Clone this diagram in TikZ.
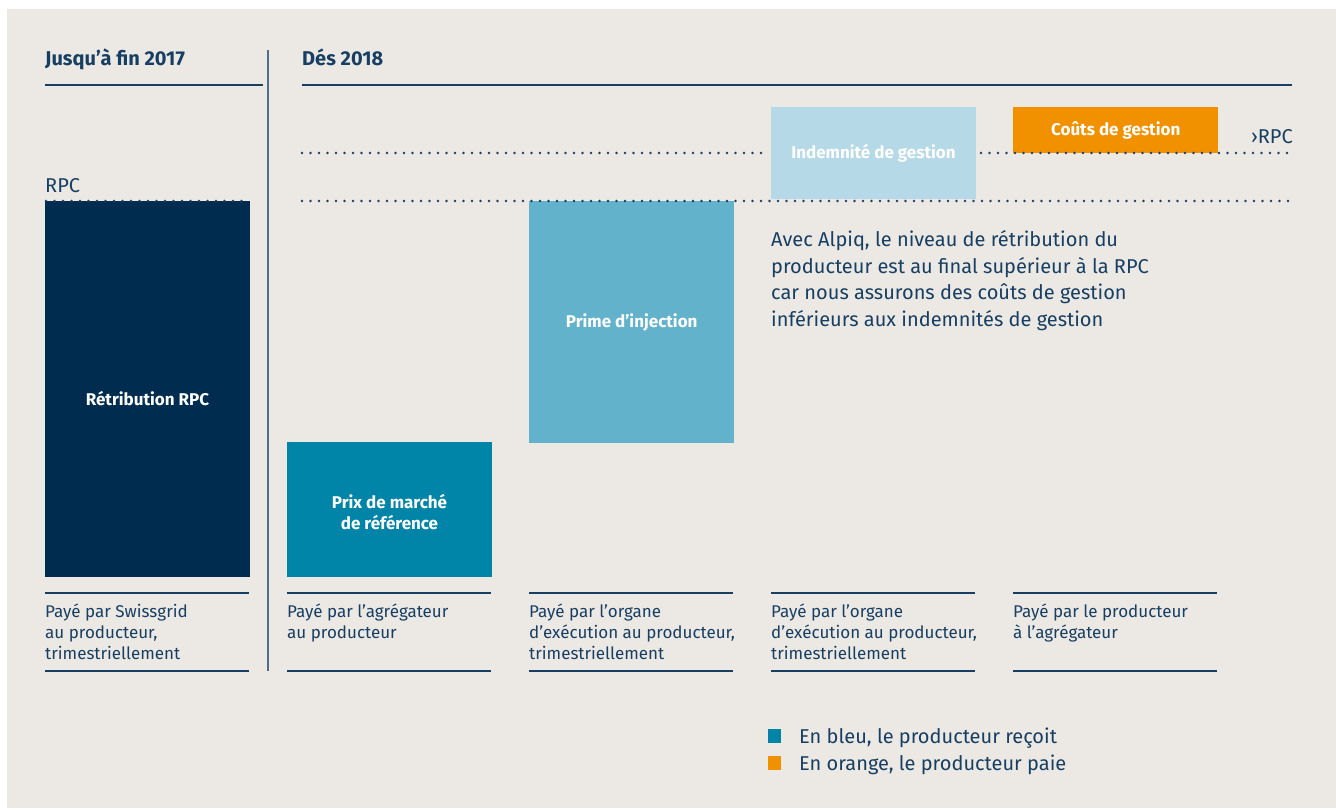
\documentclass[tikz,border=0pt]{standalone}
\usepackage{fontspec}
\setmainfont{Fira Sans}
\definecolor{bg}{HTML}{ECE8E3}
\definecolor{navy}{HTML}{173F63}
\definecolor{dark}{HTML}{002D4F}
\definecolor{teal}{HTML}{0085A9}
\definecolor{midblue}{HTML}{62B2CC}
\definecolor{lightblue}{HTML}{B6D9E7}
\definecolor{orange}{HTML}{F29100}
\definecolor{sep}{HTML}{4F6E8C}
\tikzset{
  hdr/.style={anchor=base west, inner sep=0pt, text=navy, font=\fontsize{20}{24}\selectfont\bfseries},
  rule/.style={draw=navy, line width=1.3pt},
  dotline/.style={draw=navy, line width=2.9pt, line cap=round, dash pattern=on 0pt off 8.5pt},
  bar/.style={anchor=north west, inner sep=0pt, minimum width=205pt},
  barlabel/.style={text=white, font=\fontsize{17}{21}\selectfont\bfseries, align=center, inner sep=0pt},
  foot/.style={anchor=base west, inner sep=0pt, text=navy, align=left, font=\fontsize{17}{21}\selectfont},
  body/.style={anchor=base west, inner sep=0pt, text=navy, align=left, font=\fontsize{20}{26.4}\selectfont},
}
\begin{document}
\begin{tikzpicture}[x=1pt,y=-1pt]
\useasboundingbox (0,0) rectangle (1336,809);
\fill[white] (0,0) rectangle (1336,809);
\fill[bg] (7,9) rectangle (1336,808);
% headers
\node[hdr] (h1) at (45,65) {Jusqu’à fin 2017};
\node[hdr] (h2) at (302,65) {Dés 2018};
\draw[rule] (45,85) -- (263,85);
\draw[rule] (302,85) -- (1292,85);
\draw[draw=sep, line width=2pt] (268,50) -- (268,671);
% bars
\node[bar, fill=dark, minimum height=376pt] (b1) at (45,201) {};
\node[barlabel] at (147.5,399) {Rétribution RPC};
\node[bar, fill=teal, minimum height=135pt] (b2) at (287,442) {};
\node[barlabel] at (389.5,512) {Prix de marché\\de référence};
\node[bar, fill=midblue, minimum height=242pt] (b3) at (529,201) {};
\node[barlabel] at (b3.center) {Prime d’injection};
\node[bar, fill=lightblue, minimum height=92pt] (b4) at (771,107) {};
\node[barlabel] at (873.5,153) {Indemnité de gestion};
\node[bar, fill=orange, minimum height=46pt] (b5) at (1013,107) {};
\node[barlabel] at (b5.center) {Coûts de gestion};
% dotted lines
\draw[dotline] (302,153) -- (766,153);
\draw[dotline] (981,153) -- (1292,153);
\draw[dotline] (302,201) -- (1292,201);
\draw[dotline] (46,201) -- (249,201);
\node[body, anchor=base west] (rpc) at (45,192) {RPC};
\node[body, anchor=base east] (rpc2) at (1293,143) {›RPC};
% paragraph (base = last line)
\node[body] (para) at (771,326) {Avec Alpiq, le niveau de rétribution du\\producteur est au final supérieur à la RPC\\car nous assurons des coûts de gestion\\inférieurs aux indemnités de gestion};
% footers
\foreach \x in {45,287,529,771,1013} {
  \draw[rule] (\x,593) -- ++(204,0);
  \draw[rule] (\x,671) -- ++(204,0);
}
\node[foot] (f1) at (45,659) {Payé par Swissgrid\\au producteur,\\trimestriellement};
\node[foot] (f2) at (287,638) {Payé par l’agrégateur\\au producteur};
\node[foot] (f3) at (529,659) {Payé par l’organe\\d’exécution au producteur,\\trimestriellement};
\node[foot] (f4) at (771,659) {Payé par l’organe\\d’exécution au producteur,\\trimestriellement};
\node[foot] (f5) at (1013,638) {Payé par le producteur\\à l’agrégateur};
% legend
\fill[teal] (768,729) rectangle (781,743);
\fill[orange] (768,756) rectangle (781,770);
\node[body] (l1) at (799,743) {En bleu, le producteur reçoit};
\node[body] (l2) at (799,770) {En orange, le producteur paie};
\end{tikzpicture}
\end{document}
